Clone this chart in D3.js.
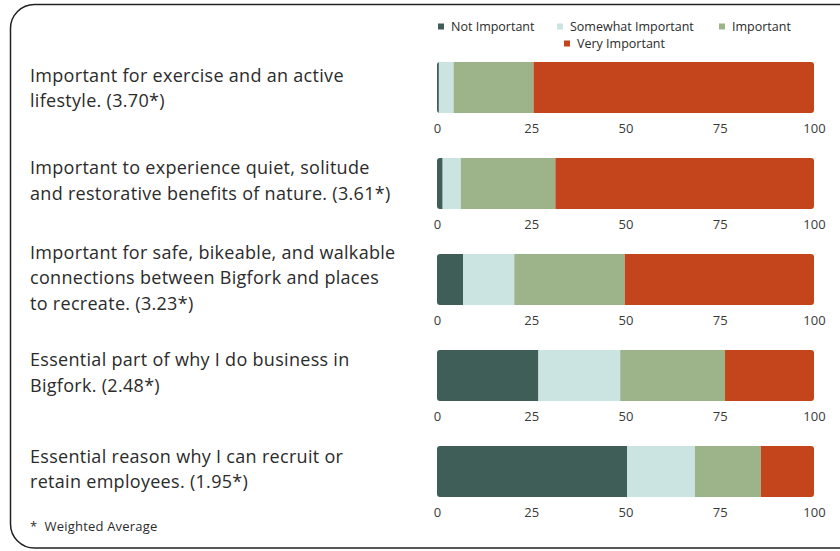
<!DOCTYPE html>
<html>
<head>
<meta charset="utf-8">
<script src="https://cdn.jsdelivr.net/npm/d3@7"></script>
<style>
  html, body { margin: 0; padding: 0; background: #ffffff; }
  svg { display: block; }
  text { font-family: "Open Sans", "Noto Sans", sans-serif; }
</style>
</head>
<body>
<svg id="chart" width="840" height="551"></svg>
<script>
// Survey statements (wrapped lines) and their weighted averages
const statements = [
  ["Important for exercise and an active", "lifestyle. (3.70*)"],
  ["Important to experience quiet, solitude", "and restorative benefits of nature. (3.61*)"],
  ["Important for safe, bikeable, and walkable", "connections between Bigfork and places", "to recreate. (3.23*)"],
  ["Essential part of why I do business in", "Bigfork. (2.48*)"],
  ["Essential reason why I can recruit or", "retain employees. (1.95*)"]
];

// Response categories and colours
const categories = ["Not Important", "Somewhat Important", "Important", "Very Important"];
const colors = ["#3f5e58", "#cbe4e1", "#9db38a", "#c4441b"];

// Percentage of responses per category, one entry per statement
const notImportant      = [0.5, 1.5, 6.9, 26.9, 50.4];
const somewhatImportant = [3.9, 4.8, 13.6, 21.7, 18.0];
const important         = [21.2, 25.1, 29.3, 27.8, 17.5];
const veryImportant     = [74.4, 68.6, 50.2, 23.6, 14.1];

const tickValues = [0, 25, 50, 75, 100];
const footnote = "*  Weighted Average";

const svg = d3.select("#chart");

// Rounded frame, open past the right edge
const frame = d3.path();
const fx = 10.5, fy = 4.5, fb = 548, r = 24;
frame.moveTo(860, fy);
frame.lineTo(fx + r, fy);
frame.arcTo(fx, fy, fx, fy + r, r);
frame.lineTo(fx, fb - r);
frame.arcTo(fx, fb, fx + r, fb, r);
frame.lineTo(860, fb);
svg.append("path").attr("d", frame.toString())
  .attr("fill", "none").attr("stroke", "#222").attr("stroke-width", 1.5);

const rows = statements.map((s, i) => ({
  lines: s,
  values: [notImportant[i], somewhatImportant[i], important[i], veryImportant[i]]
}));

const x = d3.scaleLinear().domain([0, 100]).range([437, 814]);
const rowTop = d3.scaleLinear().domain([0, 4]).range([62, 446]);
const barH = 51;
// first text line offset from each bar's top edge
const labelOffset = [13.5, 10, -1.5, 10, 10.5];
const lineH = 25.5;

const g = svg.append("g");
const defs = svg.append("defs");

rows.forEach((row, i) => {
  const y0 = rowTop(i);
  const stack = [];
  let acc = 0;
  row.values.forEach((v, k) => { stack.push({ k, x0: acc, x1: acc + v }); acc += v; });

  const clipId = "clip" + i;
  defs.append("clipPath").attr("id", clipId)
    .append("rect")
    .attr("x", x(0)).attr("y", y0)
    .attr("width", x(100) - x(0)).attr("height", barH)
    .attr("rx", 3);

  const bar = g.append("g").attr("clip-path", `url(#${clipId})`);
  bar.selectAll("rect").data(stack).join("rect")
    .attr("x", d => x(d.x0))
    .attr("y", y0)
    .attr("width", d => x(d.x1) - x(d.x0))
    .attr("height", barH)
    .attr("fill", d => colors[d.k]);

  // Axis under each bar
  const axis = d3.axisBottom(x).tickValues(tickValues).tickSize(0).tickPadding(0);
  const ag = g.append("g")
    .attr("transform", `translate(0, ${y0 + barH + 10.5})`)
    .call(axis);
  ag.select(".domain").remove();
  ag.selectAll("text")
    .attr("dy", "0.71em")
    .attr("fill", "#3a3a3a")
    .style("font-size", "13px")
    .style("font-family", "\"Open Sans\", sans-serif");

  // Statement label
  const firstY = y0 + labelOffset[i];
  const t = g.append("text")
    .attr("x", 30)
    .attr("fill", "#2b2b2b")
    .style("font-size", "18px")
    .style("letter-spacing", "0.3px");
  row.lines.forEach((ln, j) => {
    t.append("tspan").attr("x", 30)
      .attr("y", firstY + j * lineH)
      .attr("dy", "0.35em")
      .text(ln);
  });
});

// Legend
const legendItems = [
  { k: 0, x: 441, y: 26.5 },
  { k: 1, x: 560, y: 26.5 },
  { k: 2, x: 722, y: 26.5 },
  { k: 3, x: 567, y: 43.5 }
];
const lg = svg.append("g");
legendItems.forEach(it => {
  lg.append("rect")
    .attr("x", it.x - 3).attr("y", it.y - 3)
    .attr("width", 6).attr("height", 6)
    .attr("fill", colors[it.k]);
  lg.append("text")
    .attr("x", it.x + 10).attr("y", it.y)
    .attr("dy", "0.35em")
    .attr("fill", "#2b2b2b")
    .style("font-size", "12.5px")
    .text(categories[it.k]);
});

svg.append("text")
  .attr("x", 30).attr("y", 526)
  .attr("dy", "0.35em")
  .attr("fill", "#2b2b2b")
  .style("font-size", "13px")
  .style("letter-spacing", "0.2px")
  .style("white-space", "pre")
  .text(footnote);
</script>
</body>
</html>
